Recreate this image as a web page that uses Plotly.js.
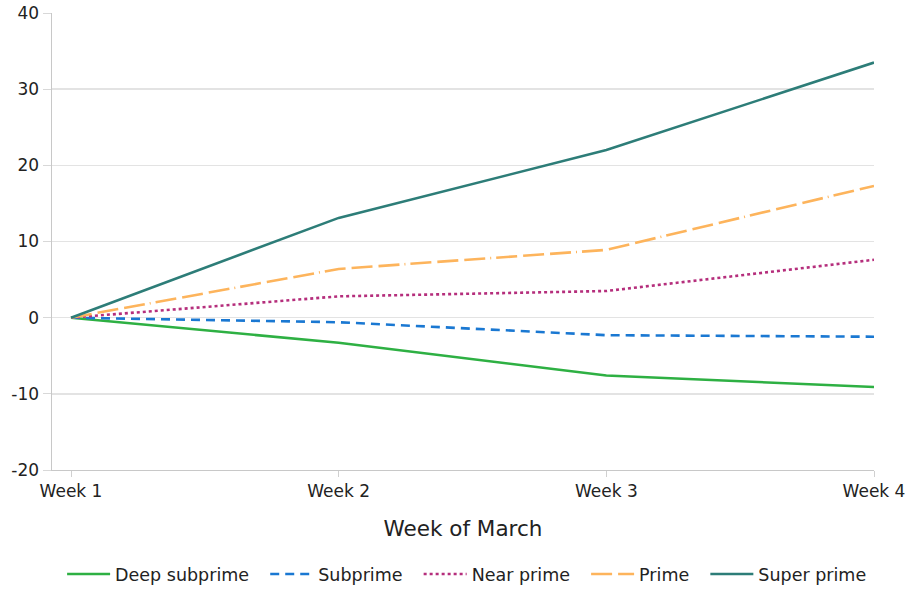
<!DOCTYPE html>
<html>
<head>
<meta charset="utf-8">
<script src="https://cdn.plot.ly/plotly-3.0.1.min.js"></script>
<style>html,body{margin:0;padding:0;background:#fff;}#chart{width:909px;height:589px;}</style>
</head>
<body>
<div id="chart"></div>
<script>
const weeks = ["Week 1", "Week 2", "Week 3", "Week 4"];
const deepSubprime = [0, -3.3, -7.6, -9.1];
const subprime = [0, -0.6, -2.3, -2.5];
const nearPrime = [0, 2.8, 3.5, 7.6];
const prime = [0, 6.4, 8.9, 17.3];
const superPrime = [0, 13.1, 22.0, 33.5];
const yTickVals = [-20, -10, 0, 10, 20, 30, 40];
const yTickText = ["-20", "-10", "0", "10", "20", "30", "40"];

const seriesNames = ["Deep subprime", "Subprime", "Near prime", "Prime", "Super prime"];
const seriesValues = [deepSubprime, subprime, nearPrime, prime, superPrime];
const colors = ["#2eb043", "#1a78d2", "#b52e7c", "#fdb45c", "#2d7d78"];
const dashes = ["solid", "9px,6px", "3px,3px", "21px,6px,21px,6px,21px,5px,1px,5px", "solid"];
const pad = "\u00a0\u00a0";

const traces = seriesNames.map((n, i) => ({
  x: weeks, y: seriesValues[i], name: i < seriesNames.length - 1 ? n + pad : n,
  type: "scatter", mode: "lines",
  line: {color: colors[i], width: 2.6, dash: dashes[i]}
}));

const layout = {
  width: 909, height: 589,
  margin: {l: 52, r: 35, t: 13, b: 119, autoexpand: false},
  paper_bgcolor: "#fff", plot_bgcolor: "#fff",
  font: {family: "DejaVu Sans, sans-serif", color: "#222", size: 16},
  showlegend: true,
  legend: {orientation: "h", x: 0.505, xanchor: "center", y: -0.228, yanchor: "middle",
           font: {size: 17.5}, traceorder: "normal", itemwidth: 43},
  xaxis: {
    type: "category", range: [-0.071, 3],
    showgrid: false, zeroline: false,
    showline: true, linecolor: "#c8c8c8", linewidth: 1,
    ticks: "outside", ticklen: 6, tickcolor: "#d0d0d0",
    tickfont: {size: 17},
    title: {text: "Week of March", font: {size: 21.5}, standoff: 20}
  },
  yaxis: {
    range: [-20, 40], tickvals: yTickVals, ticktext: yTickText,
    showgrid: true, gridcolor: "#e3e3e3", gridwidth: 1.5,
    zeroline: false,
    showline: true, linecolor: "#c8c8c8", linewidth: 1.5,
    ticks: "outside", ticklen: 8, tickcolor: "#d8d8d8",
    tickfont: {size: 17}
  }
};
Plotly.newPlot("chart", traces, layout, {displayModeBar: false, staticPlot: true});
</script>
</body>
</html>
